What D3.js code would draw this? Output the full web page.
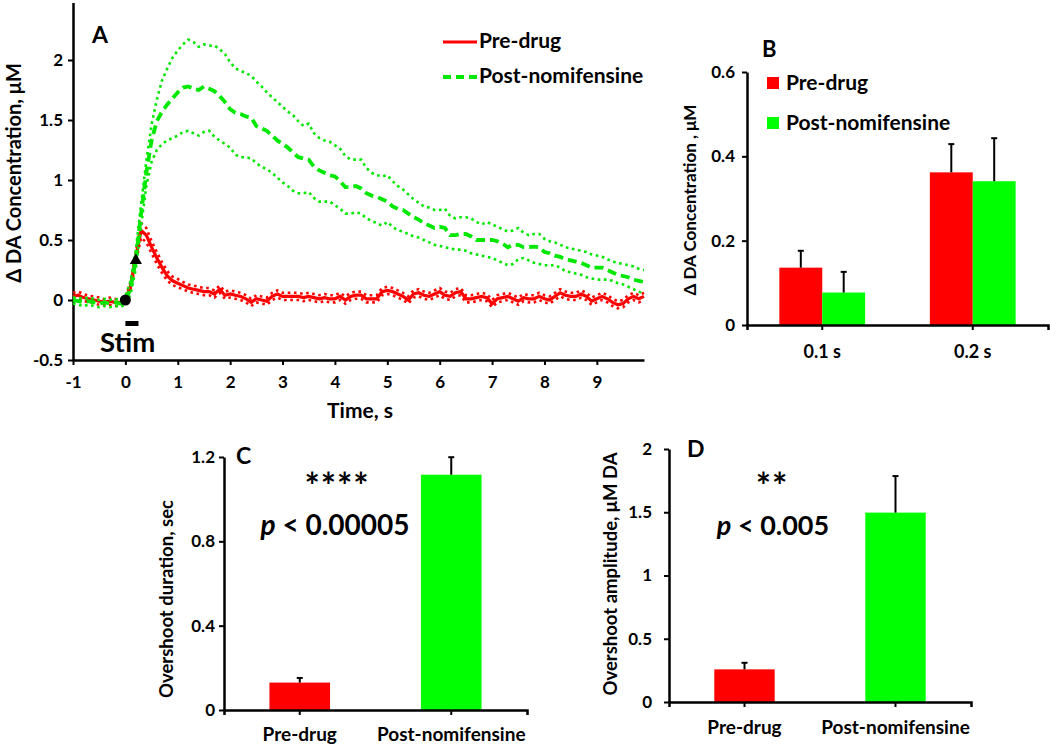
<!DOCTYPE html>
<html><head><meta charset="utf-8">
<script src="https://cdn.jsdelivr.net/npm/d3@7"></script>
<style>
body{margin:0;background:#fff}
text{font-family:Lato,'Open Sans',sans-serif;font-weight:700;fill:#000}
</style>
</head><body><svg id="chart" width="1050" height="746"></svg>
<script>
// ---------- Panel A data (time course, 0.1 s sampling) ----------
const time = [-1.0,-0.9,-0.8,-0.7,-0.6,-0.5,-0.4,-0.3,-0.2,-0.1,
0.0,0.1,0.2,0.3,0.4,0.5,0.6,0.7,0.8,0.9,
1.0,1.1,1.2,1.3,1.4,1.5,1.6,1.7,1.8,1.9,
2.0,2.1,2.2,2.3,2.4,2.5,2.6,2.7,2.8,2.9,
3.0,3.1,3.2,3.3,3.4,3.5,3.6,3.7,3.8,3.9,
4.0,4.1,4.2,4.3,4.4,4.5,4.6,4.7,4.8,4.9,
5.0,5.1,5.2,5.3,5.4,5.5,5.6,5.7,5.8,5.9,
6.0,6.1,6.2,6.3,6.4,6.5,6.6,6.7,6.8,6.9,
7.0,7.1,7.2,7.3,7.4,7.5,7.6,7.7,7.8,7.9,
8.0,8.1,8.2,8.3,8.4,8.5,8.6,8.7,8.8,8.9,
9.0,9.1,9.2,9.3,9.4,9.5,9.6,9.7,9.8,9.9];

const preMean = [0.03,0.04,0.02,0.01,0.00,-0.01,-0.02,-0.01,-0.02,-0.02,
0.00,0.12,0.36,0.58,0.54,0.44,0.35,0.27,0.20,0.16,
0.14,0.12,0.10,0.09,0.08,0.07,0.07,0.05,0.09,0.04,
0.05,0.04,0.03,0.01,-0.02,0.01,0.00,-0.01,0.03,0.05,
0.03,0.03,0.03,0.03,0.02,0.03,0.02,0.01,0.02,0.01,
0.01,0.03,0.00,0.03,0.04,0.04,0.01,0.01,0.01,0.07,
0.08,0.07,0.05,0.03,0.00,0.05,0.06,0.04,0.03,0.05,
0.07,0.04,0.03,0.06,0.07,0.01,0.01,0.02,0.03,0.02,
-0.03,0.01,0.02,0.03,0.01,-0.01,0.02,0.01,0.01,0.03,
0.01,0.00,0.03,0.06,0.04,0.03,0.03,0.05,0.03,-0.01,
0.01,0.03,0.01,-0.02,-0.04,-0.03,0.01,0.03,0.01,0.03];

const preSem = [0.03,0.03,0.03,0.025,0.03,0.03,0.025,0.03,0.03,0.025,
0.02,0.03,0.04,0.06,0.06,0.05,0.05,0.045,0.04,0.035,
0.035,0.03,0.03,0.03,0.03,0.03,0.03,0.03,0.03,0.03,
0.03,0.03,0.03,0.03,0.03,0.03,0.03,0.03,0.03,0.03,
0.03,0.03,0.03,0.03,0.03,0.03,0.03,0.03,0.03,0.03,
0.03,0.03,0.03,0.03,0.03,0.03,0.03,0.03,0.03,0.03,
0.03,0.03,0.03,0.03,0.03,0.03,0.03,0.03,0.03,0.03,
0.03,0.03,0.03,0.03,0.03,0.03,0.03,0.03,0.03,0.03,
0.03,0.03,0.03,0.03,0.03,0.03,0.03,0.03,0.03,0.03,
0.03,0.03,0.03,0.03,0.03,0.03,0.03,0.03,0.03,0.03,
0.03,0.03,0.03,0.03,0.03,0.03,0.03,0.03,0.03,0.03];

const postMean = [0.00,-0.01,-0.02,-0.01,-0.02,-0.03,-0.02,-0.03,-0.02,-0.03,
-0.01,0.10,0.34,0.72,1.06,1.33,1.49,1.57,1.63,1.68,
1.73,1.77,1.78,1.76,1.75,1.78,1.76,1.74,1.70,1.65,
1.59,1.56,1.55,1.53,1.52,1.45,1.43,1.41,1.37,1.33,
1.30,1.27,1.23,1.19,1.18,1.17,1.11,1.08,1.06,1.04,
1.03,0.99,0.94,0.94,0.95,0.93,0.89,0.87,0.86,0.84,
0.82,0.78,0.76,0.75,0.72,0.69,0.67,0.64,0.62,0.60,
0.61,0.60,0.54,0.54,0.55,0.55,0.53,0.50,0.50,0.50,
0.50,0.49,0.47,0.44,0.46,0.46,0.44,0.44,0.445,0.44,
0.40,0.39,0.37,0.36,0.34,0.33,0.32,0.31,0.29,0.27,
0.27,0.27,0.25,0.23,0.21,0.20,0.19,0.17,0.16,0.15];

const postUpper = [0.02,0.02,0.01,0.02,0.01,0.00,0.01,0.00,0.01,0.00,
0.03,0.16,0.42,0.80,1.16,1.46,1.67,1.83,1.93,2.02,
2.08,2.13,2.17,2.15,2.11,2.13,2.12,2.12,2.09,2.05,
1.98,1.93,1.91,1.89,1.87,1.82,1.78,1.73,1.69,1.65,
1.61,1.57,1.54,1.49,1.45,1.47,1.39,1.35,1.33,1.32,
1.29,1.26,1.20,1.17,1.17,1.17,1.10,1.06,1.04,1.03,
1.04,0.99,0.95,0.92,0.88,0.84,0.81,0.78,0.77,0.75,
0.75,0.76,0.70,0.68,0.69,0.69,0.68,0.65,0.63,0.65,
0.63,0.61,0.59,0.57,0.58,0.60,0.56,0.54,0.55,0.55,
0.51,0.49,0.48,0.46,0.44,0.43,0.42,0.41,0.40,0.38,
0.37,0.36,0.34,0.32,0.31,0.30,0.29,0.28,0.26,0.25];

const postLower = [-0.03,-0.04,-0.05,-0.04,-0.05,-0.06,-0.05,-0.06,-0.05,-0.06,
-0.04,0.05,0.26,0.62,0.95,1.15,1.25,1.30,1.33,1.35,
1.37,1.40,1.41,1.39,1.37,1.40,1.41,1.36,1.33,1.30,
1.27,1.21,1.19,1.19,1.18,1.14,1.11,1.09,1.06,1.02,
0.98,0.95,0.91,0.89,0.89,0.90,0.85,0.82,0.82,0.82,
0.79,0.76,0.72,0.72,0.73,0.72,0.68,0.66,0.64,0.62,
0.65,0.61,0.58,0.57,0.55,0.53,0.52,0.50,0.48,0.46,
0.45,0.44,0.43,0.42,0.42,0.41,0.39,0.38,0.37,0.36,
0.35,0.33,0.31,0.29,0.30,0.34,0.35,0.33,0.31,0.30,
0.29,0.29,0.29,0.27,0.24,0.23,0.22,0.21,0.19,0.18,
0.17,0.17,0.17,0.16,0.14,0.13,0.11,0.09,0.07,0.05];

const seriesNames = ["Pre-drug", "Post-nomifensine"];
const aXTicks = [-1,0,1,2,3,4,5,6,7,8,9];
const aYTicks = [-0.5,0,0.5,1,1.5,2];
const stimWindow = [0, 0.25];
const stimStartPoint = {t: 0, v: 0};
const firstPeakPoint = {t: 0.2, v: 0.33};

// ---------- Panel B data ----------
const bCategories = ["0.1 s", "0.2 s"];
const bPre = [0.136, 0.362];
const bPreErr = [0.040, 0.067];
const bPost = [0.077, 0.341];
const bPostErr = [0.049, 0.102];
const bYTicks = [0, 0.2, 0.4, 0.6];

// ---------- Panel C data ----------
const cCategories = ["Pre-drug", "Post-nomifensine"];
const cValues = [0.13, 1.116];
const cErr = [0.022, 0.083];
const cYTicks = [0, 0.4, 0.8, 1.2];

// ---------- Panel D data ----------
const dCategories = ["Pre-drug", "Post-nomifensine"];
const dValues = [0.258, 1.497];
const dErr = [0.052, 0.289];
const dYTicks = [0, 0.5, 1, 1.5, 2];

const RED = "#ff0000", GREEN = "#00ff00", GREENL = "#00e800";
const svg = d3.select("#chart");
const fmt = d => String(d); // plain hyphen for negatives, as in the original

function styleAxis(g, size) {
  g.selectAll(".domain").attr("stroke", "#000").attr("stroke-width", 2.5);
  g.selectAll(".tick line").attr("stroke", "#000").attr("stroke-width", 2);
  g.selectAll(".tick text").style("font-family", "Lato,'Open Sans',sans-serif").style("font-weight", 700)
    .style("font-size", size + "px").attr("fill", "#000");
}

// =================== PANEL A ===================
(function(){
  const x = d3.scaleLinear().domain([-1, 9.9]).range([73, 644]);
  const y = d3.scaleLinear().domain([-0.5, 2.5]).range([360, 0]);
  const g = svg.append("g");

  const xa = g.append("g").attr("transform", `translate(0,${y(-0.5)})`)
    .call(d3.axisBottom(x).tickValues(aXTicks).tickSize(5).tickSizeOuter(0).tickPadding(11).tickFormat(fmt));
  styleAxis(xa, 17);
  const ya = g.append("g").attr("transform", `translate(${x(-1)},0)`)
    .call(d3.axisLeft(y.copy().domain([-0.5, 2.48]).range([360, 2.4])).tickValues(aYTicks).tickSize(5).tickSizeOuter(0).tickPadding(5).tickFormat(fmt));
  styleAxis(ya, 17);

  const idx = d3.range(time.length);
  const line = arr => d3.line().x(i => x(time[i])).y(i => y(arr[i]))(idx);
  const lineFn = f => d3.line().x(i => x(time[i])).y(i => y(f(i)))(idx);

  // red
  g.append("path").attr("d", lineFn(i => preMean[i] + preSem[i])).attr("fill","none").attr("stroke",RED).attr("stroke-width",2.6).attr("stroke-dasharray","2.6,3.6");
  g.append("path").attr("d", lineFn(i => preMean[i] - preSem[i])).attr("fill","none").attr("stroke",RED).attr("stroke-width",2.6).attr("stroke-dasharray","2.6,3.6");
  g.append("path").attr("d", line(preMean)).attr("fill","none").attr("stroke",RED).attr("stroke-width",3.2);
  // green
  g.append("path").attr("d", line(postUpper)).attr("fill","none").attr("stroke",GREENL).attr("stroke-width",2.6).attr("stroke-dasharray","2.6,3.6");
  g.append("path").attr("d", line(postLower)).attr("fill","none").attr("stroke",GREENL).attr("stroke-width",2.6).attr("stroke-dasharray","2.6,3.6");
  g.append("path").attr("d", line(postMean)).attr("fill","none").attr("stroke",GREENL).attr("stroke-width",3.8).attr("stroke-dasharray","9,5");

  // markers
  g.append("circle").attr("cx", x(stimStartPoint.t)).attr("cy", y(stimStartPoint.v)).attr("r", 5.5).attr("fill", "#000");
  g.append("path").attr("d", d3.symbol().type(d3.symbolTriangle).size(64)())
    .attr("transform", `translate(${x(firstPeakPoint.t)},${y(firstPeakPoint.v)})`).attr("fill", "#000");

  // stim bar
  g.append("rect").attr("x", x(stimWindow[0])).attr("y", 321).attr("width", x(stimWindow[1]) - x(stimWindow[0])).attr("height", 5).attr("fill", "#000");
  g.append("text").attr("x", 100).attr("y", 352).style("font-size", "27.5px").text("Stim");

  g.append("text").attr("x", 92).attr("y", 43).style("font-size", "23px").text("A");
  g.append("text").attr("transform", "translate(21,173) rotate(-90)").attr("text-anchor", "middle").style("font-size", "20px").text("Δ DA Concentration, μM");
  g.append("text").attr("x", 360).attr("y", 418).attr("text-anchor", "middle").style("font-size", "21px").text("Time, s");

  // legend
  const leg = g.append("g");
  leg.append("line").attr("x1", 443).attr("x2", 477).attr("y1", 42).attr("y2", 42).attr("stroke", RED).attr("stroke-width", 3.2);
  leg.append("line").attr("x1", 443).attr("x2", 477).attr("y1", 77).attr("y2", 77).attr("stroke", GREENL).attr("stroke-width", 3.8).attr("stroke-dasharray", "8,5");
  leg.append("text").attr("x", 479).attr("y", 48).style("font-size", "21px").text(seriesNames[0]);
  leg.append("text").attr("x", 479).attr("y", 83).style("font-size", "21px").text(seriesNames[1]);
})();

// =================== PANEL B ===================
(function(){
  const x = d3.scaleBand().domain(bCategories).range([747, 1048]).paddingInner(0.43).paddingOuter(0.215);
  const y = d3.scaleLinear().domain([0, 0.6]).range([325, 72]);
  const g = svg.append("g");
  const bw = x.bandwidth() / 2;
  const groups = [{vals: bPre, err: bPreErr, color: RED, off: 0}, {vals: bPost, err: bPostErr, color: GREEN, off: bw}];
  groups.forEach(s => {
    bCategories.forEach((c, i) => {
      g.append("rect").attr("x", x(c) + s.off).attr("y", y(s.vals[i])).attr("width", bw).attr("height", y(0) - y(s.vals[i])).attr("fill", s.color);
      const cx = x(c) + s.off + bw / 2;
      g.append("line").attr("x1", cx).attr("x2", cx).attr("y1", y(s.vals[i])).attr("y2", y(s.vals[i] + s.err[i])).attr("stroke", "#000").attr("stroke-width", 2);
      g.append("line").attr("x1", cx - 3).attr("x2", cx + 3).attr("y1", y(s.vals[i] + s.err[i])).attr("y2", y(s.vals[i] + s.err[i])).attr("stroke", "#000").attr("stroke-width", 2);
    });
  });
  const xa = g.append("g").attr("transform", `translate(0,${y(0)})`)
    .call(d3.axisBottom(x).tickSize(5).tickSizeOuter(5).tickPadding(15));
  xa.selectAll(".tick").attr("transform", d => `translate(${x(d) + x.bandwidth() / 2},0)`);
  styleAxis(xa, 18);
  const ya = g.append("g").attr("transform", `translate(747,0)`)
    .call(d3.axisLeft(y).tickValues(bYTicks).tickSize(5).tickSizeOuter(0).tickPadding(7).tickFormat(fmt));
  styleAxis(ya, 17);

  g.append("text").attr("x", 762).attr("y", 57).style("font-size", "22px").text("B");
  g.append("text").attr("transform", "translate(696,200) rotate(-90)").attr("text-anchor", "middle").style("font-size", "17px").text("Δ DA Concentration , μM");
  g.append("rect").attr("x", 767).attr("y", 77).attr("width", 12).attr("height", 12).attr("fill", RED);
  g.append("rect").attr("x", 767).attr("y", 117).attr("width", 12).attr("height", 12).attr("fill", GREEN);
  g.append("text").attr("x", 786).attr("y", 90).style("font-size", "21px").text(seriesNames[0]);
  g.append("text").attr("x", 786).attr("y", 130).style("font-size", "21px").text(seriesNames[1]);
})();

// =================== PANELS C & D ===================
function singleBars(cfg) {
  const x = d3.scaleBand().domain(cfg.categories).range(cfg.xr).paddingInner(0.6).paddingOuter(0.3);
  const y = d3.scaleLinear().domain(cfg.domain).range(cfg.yr);
  const g = svg.append("g");
  cfg.categories.forEach((c, i) => {
    const v = cfg.values[i], e = cfg.err[i];
    g.append("rect").attr("x", x(c)).attr("y", y(v)).attr("width", x.bandwidth()).attr("height", y(0) - y(v)).attr("fill", cfg.colors[i]);
    const cx = x(c) + x.bandwidth() / 2;
    g.append("line").attr("x1", cx).attr("x2", cx).attr("y1", y(v)).attr("y2", y(v + e)).attr("stroke", "#000").attr("stroke-width", 2);
    g.append("line").attr("x1", cx - 3).attr("x2", cx + 3).attr("y1", y(v + e)).attr("y2", y(v + e)).attr("stroke", "#000").attr("stroke-width", 2);
  });
  const xa = g.append("g").attr("transform", `translate(0,${y(0)})`)
    .call(d3.axisBottom(x).tickSize(5).tickSizeOuter(5).tickPadding(cfg.catPad));
  styleAxis(xa, 19);
  const ya = g.append("g").attr("transform", `translate(${cfg.xr[0]},0)`)
    .call(d3.axisLeft(y).tickValues(cfg.ticks).tickSize(5).tickSizeOuter(0).tickPadding(cfg.tickPad).tickFormat(fmt));
  styleAxis(ya, 17);

  g.append("text").attr("x", cfg.letterPos[0]).attr("y", cfg.letterPos[1]).style("font-size", "23px").text(cfg.letter);
  g.append("text").attr("transform", `translate(${cfg.ylabPos[0]},${cfg.ylabPos[1]}) rotate(-90)`).attr("text-anchor", "middle").style("font-size", "18.5px").text(cfg.ylabel);
  g.append("text").attr("x", cfg.starPos[0]).attr("y", cfg.starPos[1]).attr("text-anchor", "middle").style("font-size", "36px").style("letter-spacing", "1px").text(cfg.stars);
  const p = g.append("text").attr("x", cfg.pPos[0]).attr("y", cfg.pPos[1]).attr("text-anchor", "middle").style("font-size", cfg.pSize + "px");
  p.append("tspan").style("font-style", "italic").text("p");
  p.append("tspan").text(" < " + cfg.pval);
}

singleBars({categories: cCategories, values: cValues, err: cErr, colors: [RED, GREEN],
  xr: [224, 527], yr: [710, 457], domain: [0, 1.2], ticks: cYTicks, catPad: 13, tickPad: 4,
  letter: "C", letterPos: [236, 464], ylabel: "Overshoot duration, sec", ylabPos: [173, 599],
  stars: "****", starPos: [337, 499], pPos: [335, 535], pSize: 28, pval: "0.00005"});

singleBars({categories: dCategories, values: dValues, err: dErr, colors: [RED, GREEN],
  xr: [669, 971], yr: [702, 449], domain: [0, 2], ticks: dYTicks, catPad: 14, tickPad: 12,
  letter: "D", letterPos: [687, 457], ylabel: "Overshoot amplitude, μM DA", ylabPos: [617, 574],
  stars: "**", starPos: [772, 499], pPos: [773, 535], pSize: 27, pval: "0.005"});
</script>
</body></html>
